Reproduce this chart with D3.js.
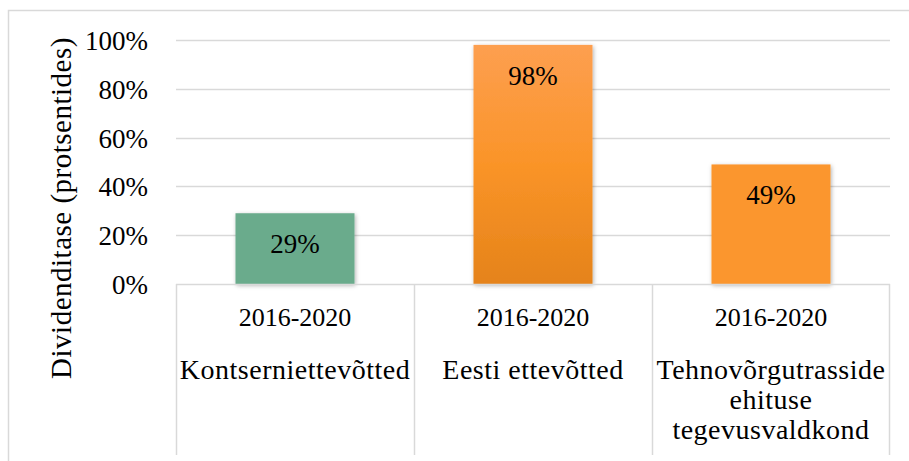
<!DOCTYPE html>
<html>
<head>
<meta charset="utf-8">
<script src="https://cdn.jsdelivr.net/npm/d3@7"></script>
</head>
<body style="margin:0">
<svg id="chart" width="909" height="461"></svg>
<script>
const periods = ["2016-2020", "2016-2020", "2016-2020"];
const groups = ["Kontserniettevõtted", "Eesti ettevõtted", "Tehnovõrgutrasside ehituse tegevusvaldkond"];
const groupLines = [["Kontserniettevõtted"], ["Eesti ettevõtted"], ["Tehnovõrgutrasside", "ehituse", "tegevusvaldkond"]];
const values = [0.29, 0.98, 0.49];
const yTicks = [0, 0.2, 0.4, 0.6, 0.8, 1.0];

const FONT = "'Liberation Serif'";

translate = function(a, b) {
  return "translate(" + a + ", " + b + ")";
}

const svg = d3.select("#chart");
const margin = { top: 40, left: 176, right: 19, bottom: 177 };
const plotWidth = 909 - margin.left - margin.right;
const plotHeight = 461 - margin.top - margin.bottom;

// outer chart border (only top and left visible)
svg.append("path")
  .attr("d", "M8.5,470 V10.5 H920")
  .attr("fill", "none")
  .attr("stroke", "#d9d9d9")
  .attr("stroke-width", 1.5);

const defs = svg.append("defs");
const grad = defs.append("linearGradient")
  .attr("id", "orangeGrad")
  .attr("x1", 0).attr("y1", 0).attr("x2", 0).attr("y2", 1);
grad.append("stop").attr("offset", "0%").attr("stop-color", "#fd9f50");
grad.append("stop").attr("offset", "50%").attr("stop-color", "#fa9428");
grad.append("stop").attr("offset", "100%").attr("stop-color", "#e5831a");

const shadow = defs.append("filter").attr("id", "shadow")
  .attr("x", "-20%").attr("y", "-10%").attr("width", "140%").attr("height", "130%");
shadow.append("feDropShadow")
  .attr("dx", 1).attr("dy", 1.5).attr("stdDeviation", 2)
  .attr("flood-color", "#000").attr("flood-opacity", 0.3);

let x = d3.scaleBand().domain(d3.range(groups.length)).range([0, plotWidth]).paddingInner(0.5).paddingOuter(0.25);
let band = d3.scaleBand().domain(d3.range(groups.length)).range([0, plotWidth]);
let y = d3.scaleLinear().domain([0, 1]).range([plotHeight, 0]);

let plot = svg.append("g").attr("transform", translate(margin.left, margin.top));

// gridlines
plot.append("g")
  .selectAll("line")
  .data(yTicks.slice(1))
  .enter()
  .append("line")
  .attr("x1", 0)
  .attr("x2", plotWidth)
  .attr("y1", d => Math.round(y(d)) + 0.5)
  .attr("y2", d => Math.round(y(d)) + 0.5)
  .attr("stroke", "#d9d9d9")
  .attr("stroke-width", 1.5);

// y axis labels
let yAxis = d3.axisLeft(y).tickValues(yTicks).tickFormat(d3.format(".0%")).tickSize(0).tickPadding(28);
let yGroup = plot.append("g").call(yAxis);
yGroup.select(".domain").remove();
yGroup.attr("font-family", null).attr("font-size", null);
yGroup.selectAll("text")
  .style("font-family", FONT)
  .style("font-size", "27px")
  .attr("fill", "#000")
  .attr("dy", "0.35em");

// y title
svg.append("text")
  .attr("transform", translate(71, 208) + " rotate(-90)")
  .attr("text-anchor", "middle")
  .style("font-family", FONT)
  .style("font-size", "29px")
  .style("letter-spacing", "0.5px")
  .text("Dividenditase (protsentides)");

// bars
let barColors = ["#6aab8c", "url(#orangeGrad)", "#fb962e"];
plot.selectAll("rect.bar")
  .data(values)
  .enter()
  .append("rect")
  .attr("class", "bar")
  .attr("x", (d, i) => x(i))
  .attr("y", d => y(d))
  .attr("width", x.bandwidth())
  .attr("height", d => plotHeight - y(d))
  .attr("fill", (d, i) => barColors[i])
  .attr("filter", "url(#shadow)");

// data labels
plot.selectAll("text.val")
  .data(values)
  .enter()
  .append("text")
  .attr("class", "val")
  .attr("x", (d, i) => x(i) + x.bandwidth() / 2)
  .attr("y", d => y(d) + 40)
  .attr("text-anchor", "middle")
  .style("font-family", FONT)
  .style("font-size", "27px")
  .text(d => d3.format(".0%")(d));

// category axis: baseline + separators
let axis = plot.append("g").attr("transform", translate(0, plotHeight));
axis.append("line")
  .attr("x1", 0).attr("x2", plotWidth)
  .attr("y1", 0.5).attr("y2", 0.5)
  .attr("stroke", "#d9d9d9").attr("stroke-width", 1.5);
axis.selectAll("line.sep")
  .data(d3.range(groups.length + 1))
  .enter()
  .append("line")
  .attr("class", "sep")
  .attr("x1", i => i < groups.length ? band(i) + 0.5 : plotWidth - 0.5)
  .attr("x2", i => i < groups.length ? band(i) + 0.5 : plotWidth - 0.5)
  .attr("y1", 0)
  .attr("y2", 171)
  .attr("stroke", "#d9d9d9").attr("stroke-width", 1.5);

// period labels
axis.selectAll("text.period")
  .data(periods)
  .enter()
  .append("text")
  .attr("class", "period")
  .attr("x", (d, i) => band(i) + band.bandwidth() / 2)
  .attr("y", 42)
  .attr("text-anchor", "middle")
  .style("font-family", FONT)
  .style("font-size", "26px")
  .text(d => d);

// group labels
let glabels = axis.selectAll("text.group")
  .data(groupLines)
  .enter()
  .append("text")
  .attr("class", "group")
  .attr("text-anchor", "middle")
  .style("font-family", FONT)
  .style("font-size", "28px")
  .style("letter-spacing", "0.5px");
glabels.each(function(lines, i) {
  let t = d3.select(this);
  lines.forEach(function(line, j) {
    t.append("tspan")
      .attr("x", band(i) + band.bandwidth() / 2)
      .attr("y", 95 + j * 30)
      .text(line);
  });
});
</script>
</body>
</html>
